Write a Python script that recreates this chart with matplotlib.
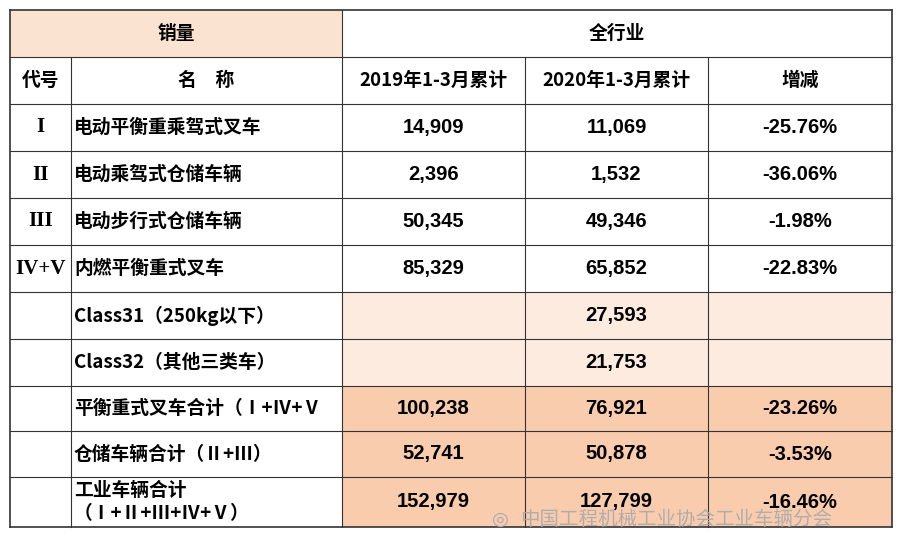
import matplotlib
matplotlib.use("Agg")
import matplotlib.pyplot as plt
from matplotlib.patches import Rectangle

plt.rcParams['font.family'] = ['Noto Sans CJK SC', 'DejaVu Sans']

codes = ["I", "II", "III", "IV+V", "", "", "", "", ""]
names = ["电动平衡重乘驾式叉车", "电动乘驾式仓储车辆", "电动步行式仓储车辆", "内燃平衡重式叉车",
         "Class31（250kg以下）", "Class32（其他三类车）", "平衡重式叉车合计（Ⅰ+Ⅳ+Ⅴ",
         "仓储车辆合计（Ⅱ+Ⅲ）", "工业车辆合计\n（Ⅰ+Ⅱ+Ⅲ+Ⅳ+Ⅴ）"]
sales_2019 = ["14,909", "2,396", "50,345", "85,329", "", "", "100,238", "52,741", "152,979"]
sales_2020 = ["11,069", "1,532", "49,346", "65,852", "27,593", "21,753", "76,921", "50,878", "127,799"]
change = ["-25.76%", "-36.06%", "-1.98%", "-22.83%", "", "", "-23.26%", "-3.53%", "-16.46%"]
row_style = ["w", "w", "w", "w", "light", "light", "dark", "dark", "dark"]

fig = plt.figure(figsize=(9, 5.59), dpi=100)
ax = fig.add_axes([0, 0, 1, 1])
ax.set_xlim(0, 900); ax.set_ylim(559, 0); ax.axis('off')

xs = [10, 71, 342, 525, 708, 892]
ys = [10, 57, 104, 151, 198, 245, 292, 339, 386, 431, 477, 527]
light = "#FDEBDF"; dark = "#F9CCAE"; head = "#FBE3D2"

ax.add_patch(Rectangle((xs[0], ys[0]), xs[2]-xs[0], ys[1]-ys[0], color=head, lw=0))
for i, st in enumerate(row_style):
    if st != "w":
        c = light if st == "light" else dark
        ax.add_patch(Rectangle((xs[2], ys[i+2]), xs[5]-xs[2], ys[i+3]-ys[i+2], color=c, lw=0))

lc = "#333333"
for y in ys:
    ax.plot([xs[0], xs[5]], [y, y], color=lc, lw=1.2 if y in (ys[0], ys[-1]) else 0.8)
for j, x in enumerate(xs):
    y0 = ys[0] if j in (0, 2, 5) else ys[1]
    ax.plot([x, x], [y0, ys[-1]], color=lc, lw=1.2 if j in (0, 5) else 0.8)

fs = 13.5
def cx(j): return (xs[j] + xs[j+1]) / 2
def cy(i): return (ys[i] + ys[i+1]) / 2

ax.text((xs[0]+xs[2])/2, cy(0), "销量", ha='center', va='center', fontsize=fs, weight='bold')
ax.text((xs[2]+xs[5])/2, cy(0), "全行业", ha='center', va='center', fontsize=fs, weight='bold')
for j, h in enumerate(["代号", "名　称", "2019年1-3月累计", "2020年1-3月累计", "增减"]):
    ax.text(cx(j), cy(1), h, ha='center', va='center', fontsize=fs, weight='bold')

for i in range(len(names)):
    r = i + 2
    ax.text(cx(0), cy(r), codes[i], ha='center', va='center', fontsize=15, family='Liberation Serif', weight='bold')
    ax.text(xs[1]+3, cy(r), names[i], ha='left', va='center', fontsize=fs, weight='bold', linespacing=1.3)
    for j, v in zip((2, 3, 4), (sales_2019[i], sales_2020[i], change[i])):
        ax.text(cx(j), cy(r), v, ha='center', va='center', fontsize=14.5, weight='bold', family='Liberation Sans')

ax.text(520, 519, "中国工程机械工业协会工业车辆分会", ha='left', va='center', fontsize=14,
        color='#aaaaaa', alpha=0.9)
ax.text(500, 519, "◎", ha='center', va='center', fontsize=14, color='#aaaaaa', family='DejaVu Sans')

fig.savefig("out.png", dpi=100)
